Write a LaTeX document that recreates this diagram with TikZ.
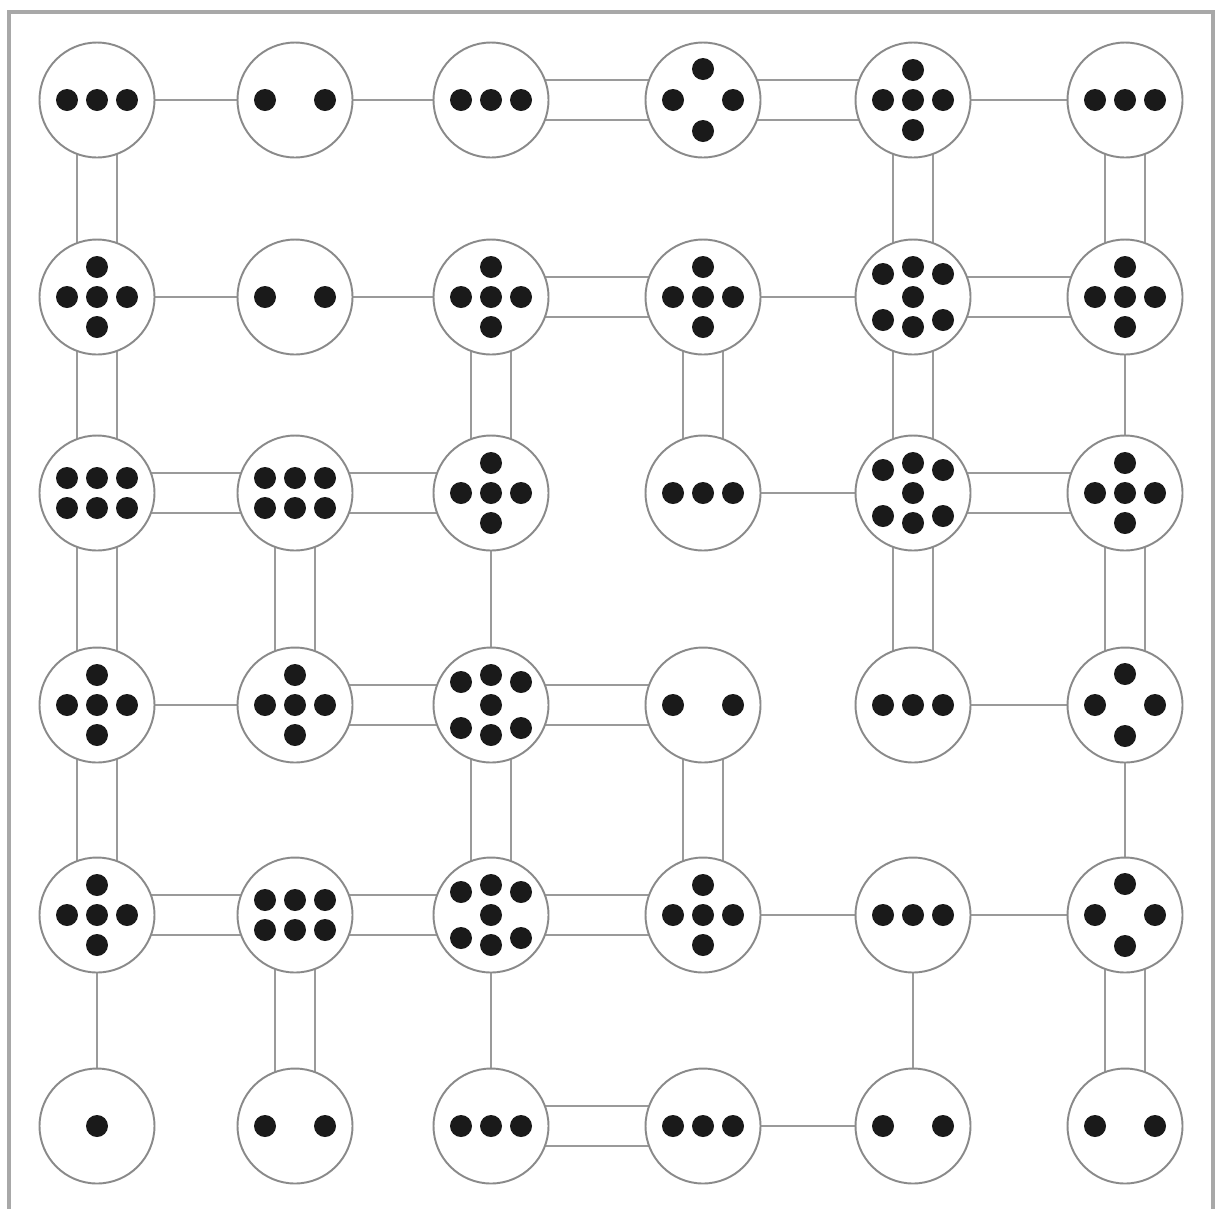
\documentclass[tikz,border=0pt]{standalone}
\usetikzlibrary{backgrounds}
\definecolor{bridgec}{HTML}{9A9A9A}
\definecolor{islandc}{HTML}{8A8A8A}
\definecolor{framec}{HTML}{A8A8A8}
\definecolor{dotc}{HTML}{1A1A1A}
\tikzset{
  island/.style={circle, draw=islandc, line width=1.1pt, fill=white, minimum size=2.3cm, inner sep=0pt},
  bridge/.style={draw=bridgec, line width=1.5pt},
  frameline/.style={draw=framec, line width=1.8pt}
}
\def\patA{0/0}
\def\patB{-30/0,30/0}
\def\patC{-30/0,0/0,30/0}
\def\patD{0/-31,-30/0,30/0,0/31}
\def\patE{0/-30,-30/0,0/0,30/0,0/30}
\def\patF{-30/-15,0/-15,30/-15,-30/15,0/15,30/15}
\def\patG{-30/-23,0/-30,30/-23,0/0,-30/23,0/30,30/23}
\newcommand\placedots[2]{\begin{scope}[shift={(#1)}]\foreach \dx/\dy in #2 {\fill[dotc] (\dx,\dy) circle[radius=0.22cm];}\end{scope}}
\newcommand\sbr[2]{\draw[bridge] (#1.center) -- (#2.center);}
\newcommand\dbrh[2]{\draw[bridge] ([yshift=0.4cm]#1.center) -- ([yshift=0.4cm]#2.center);
  \draw[bridge] ([yshift=-0.4cm]#1.center) -- ([yshift=-0.4cm]#2.center);}
\newcommand\dbrv[2]{\draw[bridge] ([xshift=0.4cm]#1.center) -- ([xshift=0.4cm]#2.center);
  \draw[bridge] ([xshift=-0.4cm]#1.center) -- ([xshift=-0.4cm]#2.center);}
\begin{document}
\begin{tikzpicture}[x=0.02cm,y=-0.02cm]
\useasboundingbox (0,0) rectangle (1220,1208);
% islands
\foreach \r/\yy in {1/100,2/297,3/493,4/705,5/915,6/1126}{
  \foreach \c/\xx in {1/97,2/295,3/491,4/703,5/913,6/1125}{
    \node[island] (n\r\c) at (\xx,\yy) {};
  }
}
% bridges
\begin{scope}[on background layer]
\fill[white] (0,0) rectangle (1220,1208);
\draw[frameline] (9,1215) -- (9,12) -- (1213,12) -- (1213,1215);
% horizontal
\sbr{n11}{n12} \sbr{n12}{n13} \dbrh{n13}{n14} \dbrh{n14}{n15} \sbr{n15}{n16}
\sbr{n21}{n22} \sbr{n22}{n23} \dbrh{n23}{n24} \sbr{n24}{n25} \dbrh{n25}{n26}
\dbrh{n31}{n32} \dbrh{n32}{n33} \sbr{n34}{n35} \dbrh{n35}{n36}
\sbr{n41}{n42} \dbrh{n42}{n43} \dbrh{n43}{n44} \sbr{n45}{n46}
\dbrh{n51}{n52} \dbrh{n52}{n53} \dbrh{n53}{n54} \sbr{n54}{n55} \sbr{n55}{n56}
\dbrh{n63}{n64} \sbr{n64}{n65}
% vertical
\dbrv{n11}{n21} \dbrv{n21}{n31} \dbrv{n31}{n41} \dbrv{n41}{n51} \sbr{n51}{n61}
\dbrv{n32}{n42} \dbrv{n52}{n62}
\dbrv{n23}{n33} \sbr{n33}{n43} \dbrv{n43}{n53} \sbr{n53}{n63}
\dbrv{n24}{n34} \dbrv{n44}{n54}
\dbrv{n15}{n25} \dbrv{n25}{n35} \dbrv{n35}{n45} \sbr{n55}{n65}
\dbrv{n16}{n26} \sbr{n26}{n36} \dbrv{n36}{n46} \sbr{n46}{n56} \dbrv{n56}{n66}
\end{scope}
% dots
\placedots{n11}{\patC} \placedots{n12}{\patB} \placedots{n13}{\patC}
\placedots{n14}{\patD} \placedots{n15}{\patE} \placedots{n16}{\patC}
\placedots{n21}{\patE} \placedots{n22}{\patB} \placedots{n23}{\patE}
\placedots{n24}{\patE} \placedots{n25}{\patG} \placedots{n26}{\patE}
\placedots{n31}{\patF} \placedots{n32}{\patF} \placedots{n33}{\patE}
\placedots{n34}{\patC} \placedots{n35}{\patG} \placedots{n36}{\patE}
\placedots{n41}{\patE} \placedots{n42}{\patE} \placedots{n43}{\patG}
\placedots{n44}{\patB} \placedots{n45}{\patC} \placedots{n46}{\patD}
\placedots{n51}{\patE} \placedots{n52}{\patF} \placedots{n53}{\patG}
\placedots{n54}{\patE} \placedots{n55}{\patC} \placedots{n56}{\patD}
\placedots{n61}{\patA} \placedots{n62}{\patB} \placedots{n63}{\patC}
\placedots{n64}{\patC} \placedots{n65}{\patB} \placedots{n66}{\patB}
\end{tikzpicture}
\end{document}
